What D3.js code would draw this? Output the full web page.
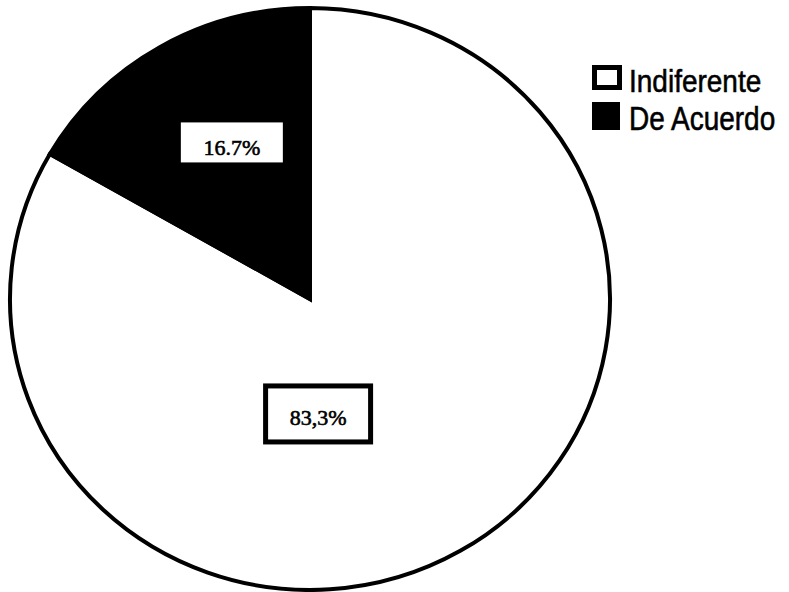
<!DOCTYPE html>
<html><head><meta charset="utf-8">
<script src="https://cdn.jsdelivr.net/npm/d3@7"></script>
<style>body{margin:0;background:#fff}</style>
</head><body>
<svg id="c" width="789" height="592"></svg>
<script>
const categories = ["Indiferente", "De Acuerdo"];
const values = [83.3, 16.7];
const labels = ["83,3%", "16.7%"];
const colors = ["#ffffff", "#000000"];

const svg = d3.select("#c");
const cx = 310, cy = 299, R = 300, sy = 0.97;

const pie = d3.pie().sort(null).value(d => d)(values);
const arc = d3.arc().innerRadius(0).outerRadius(R);

const g = svg.append("g").attr("transform", `translate(${cx},${cy}) scale(1,${sy})`);
g.selectAll("path.slice").data(pie).join("path")
  .attr("class", "slice")
  .attr("d", arc)
  .attr("fill", (d, i) => colors[i])
  .attr("stroke", "#000")
  .attr("stroke-width", 4)
  .attr("vector-effect", "non-scaling-stroke");

// labels
const lblArc = d3.arc().innerRadius(0).outerRadius(R * 1.16);
const lpos = [
  [cx + R * 0.027, cy + R * sy * 0.395],
  (() => { const c = lblArc.centroid(pie[1]); return [cx + c[0] + R * 0.03, cy + c[1] * sy - R * 0.035]; })()
];
const boxes = [
  {w: 105, h: 56, stroke: 5, dy: 11},
  {w: 102, h: 40, stroke: 0, dy: 13}
];
pie.forEach((d, i) => {
  const [x, y] = lpos[i];
  const b = boxes[i];
  svg.append("rect")
    .attr("x", x - b.w / 2).attr("y", y - b.h / 2)
    .attr("width", b.w).attr("height", b.h)
    .attr("fill", "#fff")
    .attr("stroke", b.stroke ? "#000" : "none")
    .attr("stroke-width", b.stroke);
  svg.append("text")
    .attr("x", x).attr("y", y + b.dy)
    .attr("text-anchor", "middle")
    .attr("font-family", "Liberation Serif, Times New Roman, serif")
    .attr("font-size", 22)
    .attr("fill", "#000")
    .attr("stroke", "#000")
    .attr("stroke-width", 0.6)
    .text(labels[i]);
});

// legend
const lg = svg.append("g").attr("transform", "translate(592,65)");
categories.forEach((c, i) => {
  const y = i * 37;
  if (i === 0) {
    lg.append("rect").attr("x", 2.5).attr("y", y + 2.5).attr("width", 25).attr("height", 20)
      .attr("fill", colors[i]).attr("stroke", "#000").attr("stroke-width", 5);
  } else {
    lg.append("rect").attr("x", 0).attr("y", y).attr("width", 28).attr("height", 28)
      .attr("fill", colors[i]);
  }
  lg.append("text")
    .attr("transform", `translate(37,${i === 0 ? 27 : 65}) scale(1,${i === 0 ? 1.1 : 1.18})`)
    .attr("font-family", "Liberation Sans, Arial, sans-serif")
    .attr("font-size", 28)
    .attr("fill", "#000")
    .attr("stroke", "#000")
    .attr("stroke-width", 0.5)
    .text(c);
});
</script>
</body></html>
